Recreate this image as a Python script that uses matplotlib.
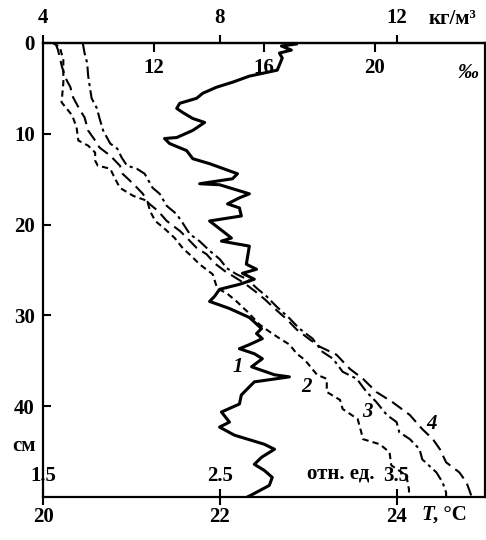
import numpy as np
import matplotlib.pyplot as plt

plt.rcParams['font.family'] = ['Liberation Serif', 'DejaVu Serif']
plt.rcParams['font.weight'] = 'bold'
plt.rcParams['font.size'] = 15

# curve 1: salinity, permille
sal_1 = [17.17, 16.63, 16.99, 16.56, 16.66, 16.48, 15.47, 14.86, 14.28, 13.78, 13.56, 12.95,
         12.84, 13.05, 13.42, 13.85, 13.42, 12.84, 12.40, 12.58, 13.20, 13.42, 14.03, 15.04,
         14.86, 13.67, 14.39, 15.47, 15.11, 14.68, 15.11, 15.18, 14.03, 14.64, 14.82, 14.46,
         15.47, 15.36, 15.73, 15.22, 15.65, 15.11, 14.39, 14.21, 14.03, 14.75, 15.47, 15.91,
         15.73, 15.94, 15.47, 15.11, 15.65, 15.94, 15.55, 16.38, 16.92, 15.65, 15.47, 15.18,
         15.11, 14.46, 14.75, 14.39, 14.93, 16.01, 16.38, 15.91, 15.65, 16.01, 16.30, 16.19,
         15.58, 15.40]
dep_1 = [0.11, 0.33, 0.78, 1.11, 1.66, 2.99, 3.65, 4.32, 4.87, 5.54, 6.09, 6.64,
         7.20, 7.64, 8.31, 8.75, 9.63, 10.41, 10.52, 11.07, 11.85, 12.74, 13.29, 14.40,
         14.95, 15.50, 15.61, 16.61, 17.05, 17.72, 18.16, 19.05, 19.60, 21.04, 21.48, 21.82,
         22.37, 24.36, 24.92, 25.36, 26.02, 26.58, 27.13, 27.91, 28.46, 29.24, 30.23, 31.45,
         32.00, 32.56, 33.22, 33.67, 34.22, 34.77, 35.66, 36.54, 36.77, 37.32, 37.87, 38.76,
         39.76, 40.64, 41.75, 42.30, 43.19, 44.19, 44.74, 45.63, 46.40, 47.07, 47.84, 48.73,
         49.72, 50.0]

# curves 2-4: temperature, deg C
temp_2 = [20.11, 20.19, 20.23, 20.23, 20.21, 20.33, 20.38, 20.40, 20.51, 20.59, 20.59, 20.62,
          20.76, 20.81, 20.87, 21.02, 21.18, 21.21, 21.27, 21.38, 21.49, 21.58, 21.68, 21.77,
          21.92, 21.97, 22.08, 22.19, 22.31, 22.45, 22.56, 22.68, 22.79, 22.87, 22.96, 23.10,
          23.21, 23.21, 23.36, 23.39, 23.56, 23.60, 23.62, 23.81, 23.92, 23.94, 24.11, 24.14, 24.14]
dep_2 = [0.0, 0.44, 1.88, 4.43, 6.53, 7.97, 9.30, 10.74, 11.30, 12.07, 12.96, 13.51,
         13.84, 14.84, 15.95, 16.83, 17.39, 18.49, 19.60, 20.49, 21.48, 22.59, 23.48, 24.36,
         25.47, 27.02, 27.57, 28.46, 29.57, 31.01, 31.78, 32.56, 33.22, 34.22, 34.88, 36.54,
         36.99, 38.43, 39.31, 40.31, 41.42, 42.86, 43.63, 44.19, 45.07, 46.51, 47.62, 49.17, 50.0]

temp_3 = [20.45, 20.47, 20.50, 20.51, 20.53, 20.55, 20.61, 20.64, 20.68, 20.76, 20.84, 20.89,
          20.95, 21.06, 21.15, 21.24, 21.32, 21.40, 21.51, 21.58, 21.66, 21.77, 21.89, 22.00,
          22.08, 22.19, 22.31, 22.42, 22.53, 22.64, 22.79, 22.90, 23.05, 23.16, 23.28, 23.39,
          23.55, 23.66, 23.77, 23.89, 24.00, 24.03, 24.15, 24.26, 24.29, 24.45, 24.52, 24.56, 24.56]
dep_3 = [0.0, 1.11, 2.21, 3.54, 4.87, 6.09, 7.20, 8.31, 9.63, 11.07, 11.63, 12.62,
         13.51, 13.84, 14.40, 15.95, 16.61, 17.94, 18.83, 19.82, 21.04, 21.82, 22.92, 23.81,
         24.81, 25.47, 26.02, 27.02, 27.91, 29.01, 30.34, 31.45, 32.56, 34.00, 34.77, 36.21,
         36.99, 38.43, 39.53, 40.97, 41.75, 42.86, 43.63, 44.74, 45.85, 47.29, 48.39, 49.50, 50.0]

temp_4 = [20.14, 20.17, 20.21, 20.25, 20.31, 20.34, 20.42, 20.47, 20.51, 20.59, 20.64, 20.76,
          20.87, 20.90, 21.02, 21.13, 21.19, 21.30, 21.40, 21.55, 21.63, 21.74, 21.85, 21.94,
          22.06, 22.17, 22.28, 22.40, 22.51, 22.62, 22.76, 22.87, 23.02, 23.13, 23.32, 23.47,
          23.62, 23.77, 23.95, 24.15, 24.29, 24.41, 24.49, 24.56, 24.71, 24.79, 24.82, 24.85]
dep_4 = [0.0, 0.78, 2.44, 3.77, 4.87, 5.98, 7.42, 8.19, 9.63, 10.74, 11.52, 12.40,
         13.51, 14.40, 15.50, 16.61, 17.61, 18.49, 19.60, 20.71, 21.48, 22.59, 23.26, 24.25,
         25.14, 25.80, 26.47, 27.35, 28.24, 29.24, 30.45, 31.56, 32.67, 33.44, 34.33, 35.88,
         36.99, 38.43, 39.53, 40.97, 42.52, 43.63, 44.74, 46.18, 47.29, 48.39, 49.17, 50.0]

t_ticks = [20, 22, 24]
rel_ticks = [1.5, 2.5, 3.5]
kg_ticks = [4, 8, 12]
sal_ticks = [12, 16, 20]
depth_ticks = [0, 10, 20, 30, 40]

W, H = 486, 540
fig = plt.figure(figsize=(W / 100, H / 100), dpi=100)
ax = fig.add_axes([43 / W, 43 / H, 442 / W, 454 / H])
ax.set_xlim(20, 25)
ax.set_ylim(50, 0)

for s in ax.spines.values():
    s.set_linewidth(1.6)

ax.plot(temp_2, dep_2, color='black', lw=1.5, linestyle=(0, (3, 2)))
ax.plot(temp_3, dep_3, color='black', lw=1.5, linestyle=(0, (6, 2, 1.5, 2)))
ax.plot(temp_4, dep_4, color='black', lw=1.5, linestyle=(0, (6, 3)))

# T axis (bottom, outside)
ax.set_xticks(t_ticks)
ax.tick_params(axis='x', direction='inout', length=11.5, width=1.5, pad=1.5)
ax.set_yticks(depth_ticks)
ax.tick_params(axis='y', direction='in', length=6, width=1.5, pad=6)

# relative units (bottom, inside)
rel = ax.secondary_xaxis('bottom', functions=(lambda t: 1.5 + (t - 20) / 2,
                                              lambda r: 20 + 2 * (r - 1.5)))
rel.set_xticks(rel_ticks)
rel.tick_params(direction='in', length=0, pad=-22.5)
rel.spines['bottom'].set_visible(False)

# density (top, outside)
kg = ax.secondary_xaxis('top', functions=(lambda t: 4 + 2 * (t - 20),
                                          lambda k: 20 + (k - 4) / 2))
kg.set_xticks(kg_ticks)
kg.tick_params(direction='out', length=6, width=1.5, pad=5)
kg.spines['top'].set_linewidth(1.6)

# salinity axis (top, inside)
ax2 = ax.twiny()
ax2.set_xlim(8, 24)
for s in ax2.spines.values():
    s.set_visible(False)
ax2.plot(sal_1, dep_1, color='black', lw=2.2)
ax2.set_xticks(sal_ticks)
ax2.tick_params(axis='x', direction='in', length=6.5, width=1.5, pad=-25)

# unit labels
fig.text(429 / W, 1 - 19 / H, 'кг/м³', ha='left', va='center')
fig.text(458 / W, 1 - 73 / H, '‰', ha='left', va='center', style='italic')
fig.text(374 / W, 1 - 473 / H, 'отн. ед.', ha='right', va='center')
fig.text(12 / W, 1 - 446 / H, 'см', ha='left', va='center')
fig.text(421 / W, 1 - 515 / H, 'T', ha='left', va='center', style='italic')
fig.text(433 / W, 1 - 515 / H, ', °C', ha='left', va='center')

# curve numbers
ax.text(22.20, 35.7, '1', style='italic', ha='center', va='center')
ax.text(22.98, 37.9, '2', style='italic', ha='center', va='center')
ax.text(23.67, 40.6, '3', style='italic', ha='center', va='center')
ax.text(24.40, 42.0, '4', style='italic', ha='center', va='center')

fig.savefig('out.png', dpi=100)
